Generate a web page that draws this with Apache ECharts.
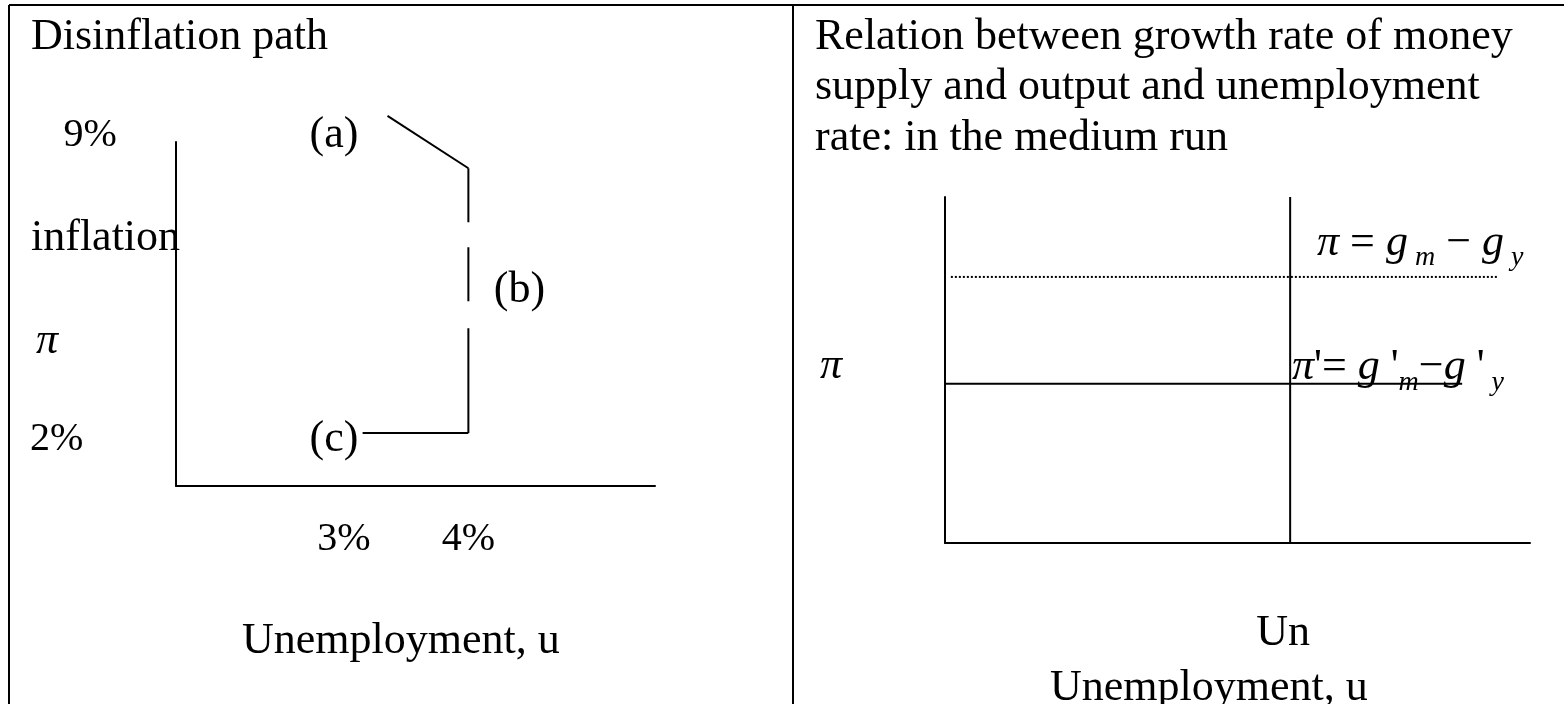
<!DOCTYPE html>
<html>
<head>
<meta charset="utf-8">
<title>Disinflation path</title>
<script src="https://cdn.jsdelivr.net/npm/echarts@6/dist/echarts.min.js"></script>
<style>
  html, body { margin: 0; padding: 0; background: #fff; }
  #chart { width: 1564px; height: 704px; }
</style>
</head>
<body>
<div id="chart"></div>
<script>
// left panel: disinflation path, u and inflation in %
const pathTop = [[3.35, 9.45], [4, 8.22]];
const pathDashed = [[4, 8.22], [4, 2]];
const pathBottom = [[4, 2], [3.15, 2]];
const uTicks = [3, 4];
const pointLabels = [['(a)', 2.92, 9], ['(b)', 4.41, 5.36], ['(c)', 2.92, 1.84]];
const piTicks = [['9%', 0.96, 9], ['2%', 0.69, 1.84]];

// right panel: medium run
const unRate = 5.9;
const piOld = 7.69;
const piNew = 4.6;
const oldLine = [[0.1, piOld], [9.44, piOld]];
const newLine = [[0, piNew], [8.84, piNew]];
const naturalLine = [[unRate, 0], [unRate, 10]];
const formulas = [
  ['{i|π} {n|=} {i|g}{s| m} {n|−} {i|g}{s| y}', 6.36, 8.67],
  ["{i|π}{n|'=} {i|g}{n| '}{s|m}{n|−}{i|g}{n| '}{s| y}", 5.93, 5.06]
];

const serif = "'Liberation Serif', 'Times New Roman', serif";
const black = '#000';

const chart = echarts.init(document.getElementById('chart'));

function axisBase(min, max, gridIndex) {
  return {
    type: 'value',
    gridIndex: gridIndex,
    min: min,
    max: max,
    axisLine: { show: true, onZero: false, lineStyle: { color: black, width: 2 } },
    axisTick: { show: false },
    splitLine: { show: false },
    axisLabel: { show: false }
  };
}

function solid(data, xi, extra) {
  return Object.assign({
    type: 'line',
    xAxisIndex: xi,
    yAxisIndex: xi,
    data: data,
    symbol: 'none',
    clip: false,
    silent: true,
    lineStyle: { color: black, width: 2 }
  }, extra || {});
}

function textSeries(rows, xi, label) {
  return {
    type: 'scatter',
    xAxisIndex: xi,
    yAxisIndex: xi,
    symbolSize: 0,
    silent: true,
    clip: false,
    itemStyle: { opacity: 1 },
    data: rows.map(r => ({ name: r[0], value: [r[1], r[2]] })),
    label: Object.assign({
      show: true,
      formatter: '{b}',
      position: [0, 0],
      align: 'center',
      verticalAlign: 'middle',
      color: black,
      opacity: 1,
      fontFamily: serif,
      fontSize: 44
    }, label || {})
  };
}

function txt(str, x, y, extra) {
  return {
    type: 'text',
    x: x,
    y: y,
    silent: true,
    style: Object.assign({
      text: str,
      fill: black,
      fontFamily: serif,
      fontSize: 44,
      align: 'left',
      verticalAlign: 'middle'
    }, extra || {})
  };
}

function rule(x1, y1, x2, y2) {
  return { type: 'line', silent: true, shape: { x1, y1, x2, y2 }, style: { stroke: black, lineWidth: 2 } };
}

const leftX = axisBase(1.65, 5.5, 0);
leftX.axisLabel = {
  show: true,
  customValues: uTicks,
  formatter: v => v + '%',
  color: black,
  fontFamily: serif,
  fontSize: 40,
  margin: 33
};

const rightX = axisBase(0, 10, 1);
rightX.axisLabel = {
  show: true,
  customValues: [unRate],
  formatter: () => 'Un',
  color: black,
  fontFamily: serif,
  fontSize: 44,
  margin: 68,
  padding: [0, 14, 0, 0]
};

chart.setOption({
  backgroundColor: '#fff',
  animation: false,
  grid: [
    { left: 176, top: 142, width: 479, height: 344 },
    { left: 945, top: 197, width: 585, height: 346 }
  ],
  xAxis: [leftX, rightX],
  yAxis: [axisBase(0.755, 8.836, 0), axisBase(0, 10, 1)],
  series: [
    solid(pathTop, 0),
    solid(pathDashed, 0, { lineStyle: { color: black, width: 2, type: [54, 25, 54, 27, 120, 0] } }),
    solid(pathBottom, 0),
    textSeries(pointLabels, 0),
    textSeries(piTicks, 0, { fontSize: 40 }),
    solid(naturalLine, 1),
    solid(newLine, 1),
    solid(oldLine, 1, { lineStyle: { color: black, width: 2, type: [2, 2] } }),
    textSeries(formulas, 1, {
      formatter: p => formulas[p.dataIndex][0],
      align: 'left',
      rich: {
        i: { fontStyle: 'italic', fontSize: 44, fontFamily: serif, lineHeight: 58, color: black },
        n: { fontSize: 44, fontFamily: serif, lineHeight: 58, color: black },
        s: { fontStyle: 'italic', fontSize: 28, fontFamily: serif, lineHeight: 26, verticalAlign: 'bottom', color: black }
      },
      lineHeight: 58
    })
  ],
  graphic: [
    rule(9, 5, 1564, 5),
    rule(9, 5, 9, 704),
    rule(793, 5, 793, 704),
    txt('Disinflation path', 31, 37),
    txt('inflation', 31, 238),
    txt('π', 36, 341, { fontStyle: 'italic' }),
    txt('Unemployment, u', 242, 641),
    txt('Relation between growth rate of money\nsupply and output and unemployment\nrate: in the medium run', 815, 12,
      { verticalAlign: 'top', lineHeight: 50.5 }),
    txt('π', 820, 366, { fontStyle: 'italic' }),
    txt('Unemployment, u', 1050, 688)
  ]
});
</script>
</body>
</html>
